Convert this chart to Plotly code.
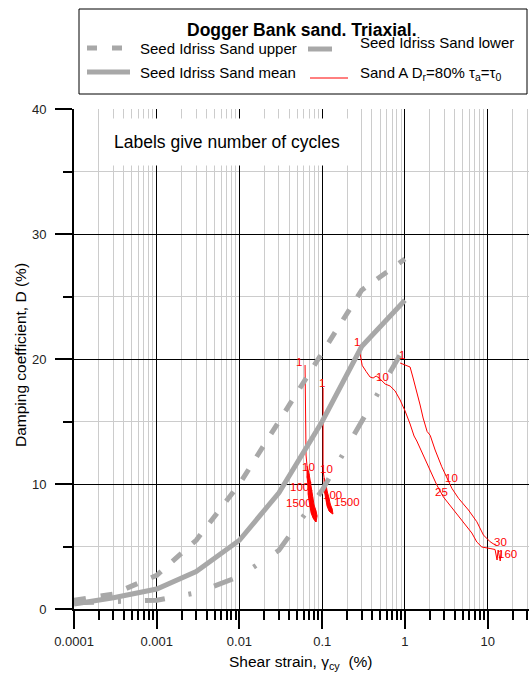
import numpy as np
import plotly.graph_objects as go

# ---------------- Seed & Idriss damping curves for sand ----------------
si_strain = [0.0001, 0.0003, 0.001, 0.003, 0.01, 0.03, 0.1, 0.3, 1.0]
si_upper = [0.7, 1.2, 2.7, 5.5, 10.0, 15.0, 20.5, 25.5, 28.0]
si_mean = [0.4, 0.9, 1.6, 3.0, 5.5, 9.3, 15.0, 21.0, 24.7]
si_lower = [0.5, 0.6, 0.7, 1.3, 2.6, 4.7, 9.5, 15.0, 21.0]

# ---------------- Sand A, Dr = 80 %, tau_a = tau_0 ----------------
# test 1 (small strain, many cycles)
t1_strain = [0.0621, 0.0638, 0.0656, 0.0695, 0.0656, 0.0735, 0.0676, 0.0755,
             0.0676, 0.0776, 0.0695, 0.0798, 0.0714, 0.0843, 0.0735, 0.0867,
             0.0776, 0.0843]
t1_damp = [19.52, 12.32, 11.44, 10.8, 10.56, 10.08, 9.84, 9.44,
           9.2, 8.88, 8.64, 8.32, 8.08, 7.84, 7.68, 7.44,
           7.28, 6.96]
# test 2
t2_strain = [0.1025, 0.1025, 0.1054, 0.1112, 0.1054, 0.1145, 0.108, 0.121,
             0.1112, 0.125, 0.1145, 0.132, 0.121, 0.135]
t2_damp = [17.68, 11.12, 10.48, 10.0, 9.76, 9.44, 9.2, 8.88,
           8.64, 8.4, 8.24, 8.0, 7.84, 7.6]
# test 3 (large strain, 1 -> 160 cycles)
t3_strain = [0.279, 0.304, 0.340, 0.379, 0.413, 0.449, 0.488, 0.577, 0.662,
             0.762, 0.875, 1.005, 1.155, 1.29, 1.393, 1.754, 2.11, 2.43,
             2.92, 3.69, 4.88, 6.44, 7.40, 8.51, 10.7, 12.3, 13.0, 13.4,
             14.2, 14.6]
t3_damp = [20.9, 19.5, 19.0, 18.56, 18.48, 18.64, 18.48, 18.0, 17.84,
           17.44, 16.72, 15.84, 14.8, 13.84, 13.44, 11.92, 10.72, 9.92,
           8.96, 8.08, 7.12, 6.08, 5.36, 4.96, 4.84, 4.76, 3.92, 4.72,
           3.84, 4.64]
# test 4 (large strain, 1 -> 30 cycles)
t4_strain = [0.875, 1.155, 1.256, 1.405, 1.527, 1.66, 1.855, 2.02, 2.32,
             2.79, 3.21, 3.69, 4.44, 5.86, 7.40, 8.89, 10.72, 12.33]
t4_damp = [19.68, 19.36, 18.48, 17.36, 16.32, 15.28, 14.2, 13.9, 12.72,
           11.38, 10.46, 9.66, 8.86, 7.92, 6.98, 5.92, 5.38, 5.12]

# number-of-cycles labels
cyc_text = ["1", "10", "100", "1500",
            "1", "10", "100", "1500",
            "1", "10", "25", "160",
            "1", "10", "30"]
cyc_strain = [0.0526, 0.0675, 0.0526, 0.0526,
              0.0998, 0.1115, 0.132, 0.20,
              0.264, 0.530, 2.74, 17.2,
              0.925, 3.62, 14.2]
cyc_damp = [19.76, 11.36, 9.76, 8.48,
            18.08, 11.2, 9.12, 8.56,
            21.36, 18.56, 9.36, 4.4,
            20.32, 10.48, 5.36]

x_tick_vals = [0.0001, 0.001, 0.01, 0.1, 1, 10]
x_tick_text = ["0.0001", "0.001", "0.01", "0.1", "1", "10"]

GRAY = "#a8a8a8"
RED = "#ff0000"
FONT = "Liberation Sans, Arial, sans-serif"

fig = go.Figure()

red_line = dict(color=RED, width=1)
for xs, ys in [(t1_strain, t1_damp), (t2_strain, t2_damp),
               (t3_strain, t3_damp), (t4_strain, t4_damp)]:
    fig.add_trace(go.Scatter(x=xs, y=ys, mode="lines", line=red_line,
                             hoverinfo="skip", showlegend=False))

# densely cycled parts of tests 1 and 2: the band swept by the zig-zag
for xs, ys in [(t1_strain[2:], t1_damp[2:]), (t2_strain[2:], t2_damp[2:])]:
    band_x = xs[::2] + xs[1::2][::-1]
    band_y = ys[::2] + ys[1::2][::-1]
    fig.add_trace(go.Scatter(x=band_x, y=band_y, mode="lines",
                             line=dict(color=RED, width=1),
                             fill="toself", fillcolor=RED,
                             hoverinfo="skip", showlegend=False))

fig.add_trace(go.Scatter(x=si_strain, y=si_upper, mode="lines",
                         line=dict(color=GRAY, width=5, dash="12px,15px"),
                         hoverinfo="skip", showlegend=False))
fig.add_trace(go.Scatter(x=si_strain, y=si_mean, mode="lines",
                         line=dict(color=GRAY, width=5),
                         hoverinfo="skip", showlegend=False))
fig.add_trace(go.Scatter(x=si_strain, y=si_lower, mode="lines",
                         line=dict(color=GRAY, width=5,
                                   dash="20px,24px,3px,24px"),
                         hoverinfo="skip", showlegend=False))

annotations = []
for t, xv, yv in zip(cyc_text, cyc_strain, cyc_damp):
    annotations.append(dict(x=np.log10(xv), y=yv, xref="x", yref="y",
                            xanchor="center", yanchor="middle",
                            text=t, showarrow=False,
                            font=dict(family=FONT, size=11.5, color=RED)))

# plot-area helpers (paper coordinates)
L, R, T, B = 74, 0, 109, 66
W, H = 529, 675
PW, PH = W - L - R, H - T - B


def px(x):
    return (x - L) / PW


def py(y):
    return (H - B - y) / PH


def label(x, y, text, size, anchor="left", **kw):
    return dict(x=px(x), y=py(y), xref="paper", yref="paper",
                showarrow=False, xanchor=anchor, yanchor="middle",
                text=text, font=dict(family=FONT, size=size, color="black"),
                **kw)


annotations += [
    label(302, 30, "<b>Dogger Bank sand. Triaxial.</b>", 17.5, "center"),
    label(138, 49, "Seed Idriss Sand upper", 15),
    label(138, 73, "Seed Idriss Sand mean", 15),
    label(358, 42, "Seed Idriss Sand lower", 15),
    label(358, 74, "Sand A D<sub>r</sub>=80% τ<sub>a</sub>=τ<sub>0</sub>", 15),
    label(227, 142, "Labels give number of cycles", 17.5, "center",
          bgcolor="white", borderpad=13),
    label(301, 662, "Shear strain, γ<sub>cy</sub>  (%)", 15.5, "center"),
    label(20, 355, "Damping coefficient, D (%)", 15.5, "center",
          textangle=-90),
]

shapes = [
    # legend frame
    dict(type="rect", xref="paper", yref="paper", x0=px(79), x1=px(527),
         y0=py(94), y1=py(9), line=dict(color="black", width=1),
         fillcolor="white", layer="below"),
    dict(type="line", xref="paper", yref="paper", x0=px(87), x1=px(122),
         y0=py(48), y1=py(48), line=dict(color=GRAY, width=5, dash="10px,15px")),
    dict(type="line", xref="paper", yref="paper", x0=px(87), x1=px(130),
         y0=py(72), y1=py(72), line=dict(color=GRAY, width=5)),
    dict(type="line", xref="paper", yref="paper", x0=px(308), x1=px(332),
         y0=py(49), y1=py(49), line=dict(color=GRAY, width=5)),
    dict(type="line", xref="paper", yref="paper", x0=px(310), x1=px(348),
         y0=py(78), y1=py(78), line=dict(color=RED, width=1)),
]

minor_x = [m * 10.0 ** e for e in range(-4, 2) for m in range(2, 10)]
tickfont = dict(family=FONT, size=13, color="#222222")

fig.update_layout(
    width=W, height=H,
    margin=dict(l=L, r=R, t=T, b=B, pad=0),
    paper_bgcolor="white", plot_bgcolor="white",
    showlegend=False,
    annotations=annotations,
    shapes=shapes,
    xaxis=dict(
        type="log", range=[-4, 1.5],
        tickmode="array", tickvals=x_tick_vals, ticktext=x_tick_text,
        ticks="outside", ticklen=18, tickwidth=2, tickcolor="black",
        ticklabelstandoff=1,
        showline=True, linewidth=2, linecolor="black",
        showgrid=True, gridcolor="black", gridwidth=1,
        zeroline=False, tickfont=tickfont,
        minor=dict(tickmode="array", tickvals=minor_x, ticks="outside",
                   ticklen=9, tickwidth=2, tickcolor="black",
                   showgrid=True, gridcolor="#cccccc", gridwidth=1),
    ),
    yaxis=dict(
        range=[0, 40], tickmode="linear", tick0=0, dtick=10,
        ticks="outside", ticklen=17, tickwidth=2, tickcolor="black",
        ticklabelstandoff=6,
        showline=True, linewidth=2, linecolor="black",
        showgrid=True, gridcolor="black", gridwidth=1,
        zeroline=False, tickfont=tickfont,
        minor=dict(tick0=0, dtick=5, ticks="outside", ticklen=9,
                   tickwidth=2, tickcolor="black",
                   showgrid=True, gridcolor="#cccccc", gridwidth=1),
    ),
)

fig.write_html("out.html")
